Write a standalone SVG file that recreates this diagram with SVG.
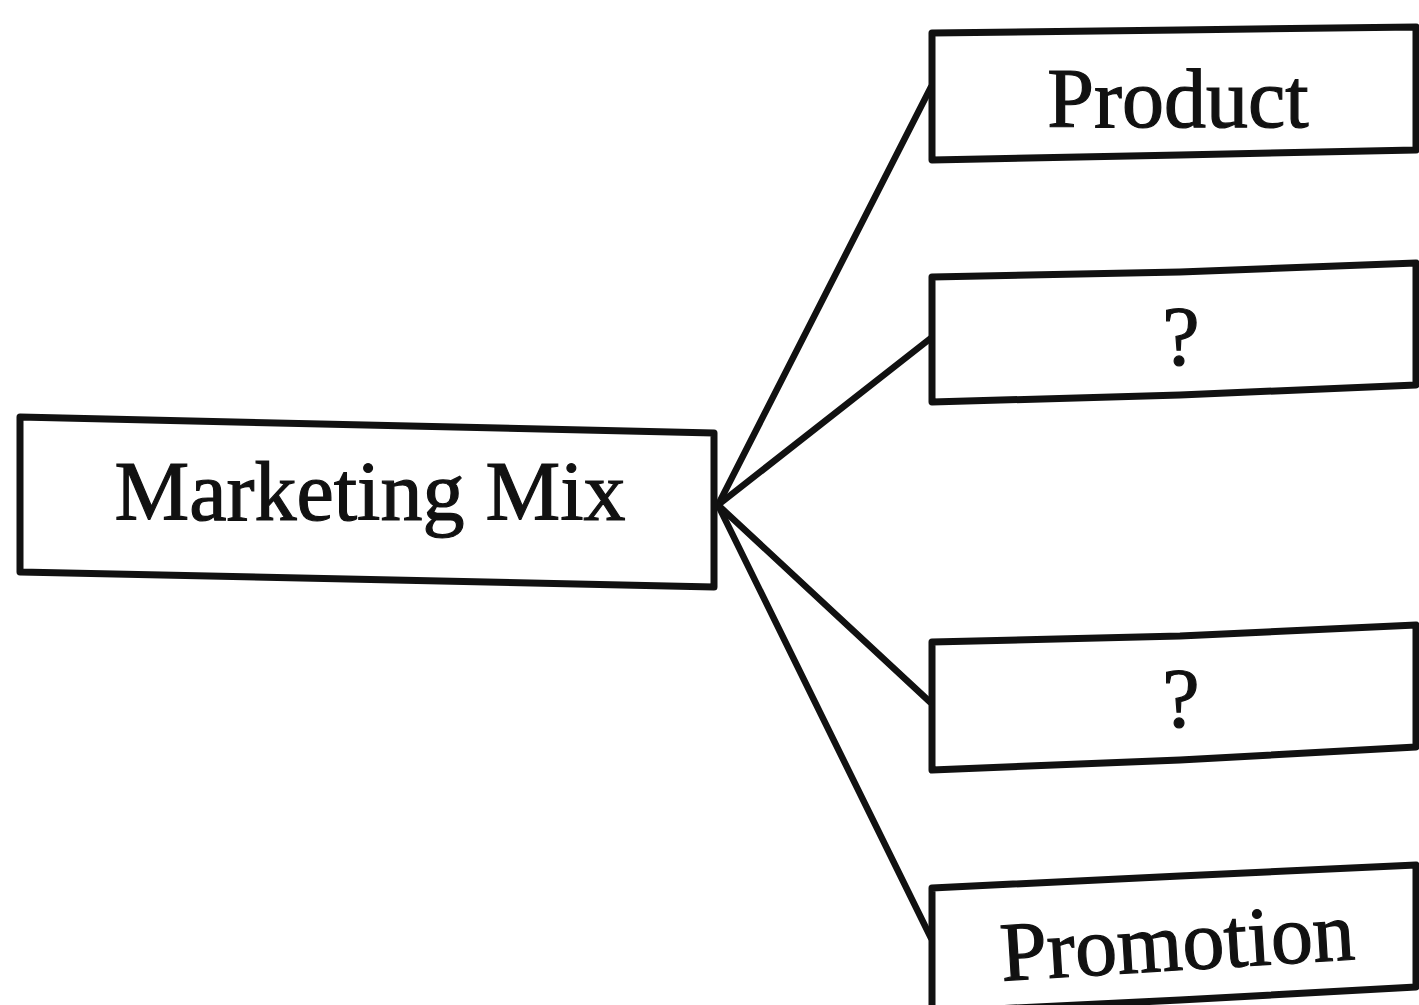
<svg xmlns="http://www.w3.org/2000/svg" width="1419" height="1005" viewBox="0 0 1419 1005">
<style>
.box{fill:#ffffff;stroke:#111111;stroke-width:7;stroke-linejoin:round}
.lbl{font-family:"Liberation Serif","Times New Roman",serif;font-size:84px;fill:#111111;stroke:#111111;stroke-width:1.2;text-anchor:middle}
.con{stroke:#111111;stroke-width:6.5;fill:none;stroke-linecap:round}
</style>
<rect x="0" y="0" width="1419" height="1005" fill="#ffffff"/>
<g id="connectors">
<line class="con" x1="718" y1="505" x2="931" y2="87"/>
<line class="con" x1="718" y1="505" x2="931" y2="338"/>
<line class="con" x1="718" y1="505" x2="930" y2="702"/>
<line class="con" x1="718" y1="505" x2="931" y2="938"/>
</g>
<g id="marketing-mix">
<path class="box" d="M20,417 L714,433 L714,587 L20,572 Z"/>
<text class="lbl" x="370" y="520" font-size="80">Marketing Mix</text>
</g>
<g id="product">
<path class="box" d="M932,33 L1180,30 L1416,27 L1416,150 L1180,155 L932,160 Z"/>
<text class="lbl" x="1178" y="127">Product</text>
</g>
<g id="unknown-1">
<path class="box" d="M932,277 L1180,272 L1416,263 L1416,385 L1180,395 L932,402 Z"/>
<text class="lbl" x="1181" y="365">?</text>
</g>
<g id="unknown-2">
<path class="box" d="M932,642 L1180,636 L1416,625 L1416,747 L1180,760 L932,770 Z"/>
<text class="lbl" x="1181" y="727">?</text>
</g>
<g id="promotion">
<path class="box" d="M932,888 L1180,876 L1416,865 L1416,987 L1180,1000 L932,1012 Z"/>
<text class="lbl" x="1179" y="970" transform="rotate(-3.5 1179 970)">Promotion</text>
</g>
</svg>
